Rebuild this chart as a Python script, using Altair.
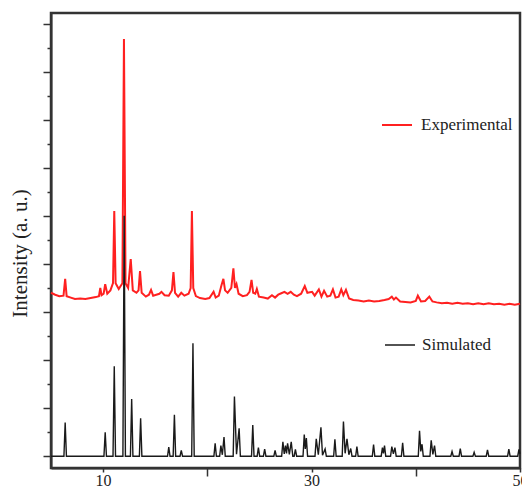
import altair as alt
import pandas as pd

# Simulated pattern: vertices (2-theta, intensity)
sim_x = [5.0, 6.24, 6.36, 6.48, 10.08, 10.2, 10.32, 10.95, 11.07, 11.19, 11.90, 12.02, 12.14,
         12.62, 12.74, 12.86, 13.48, 13.6, 13.72, 16.18, 16.3, 16.42, 16.72, 16.84, 16.96,
         17.38, 17.5, 17.62, 18.50, 18.62, 18.74, 20.63, 20.75, 20.87, 21.18, 21.3, 21.44,
         21.6, 21.72, 22.48, 22.6, 22.8, 23.05, 23.17, 24.24, 24.36, 24.48, 24.78, 24.9, 25.02,
         25.38, 25.5, 25.62, 26.38, 26.5, 26.62, 27.13, 27.25, 27.38, 27.5, 27.6, 27.7, 27.87,
         28.05, 28.2, 28.33, 28.45, 28.57, 29.18, 29.3, 29.4, 29.5, 29.62, 30.33, 30.45, 30.65,
         30.9, 31.05, 31.3, 31.42, 32.12, 32.24, 32.36, 32.94, 33.06, 33.22, 33.4, 33.58, 33.76,
         33.88, 34.23, 34.35, 34.47, 35.83, 35.95, 36.07, 36.68, 36.8, 36.9, 37.0, 37.12, 37.58,
         37.7, 37.85, 38.0, 38.12, 38.62, 38.74, 38.86, 40.24, 40.36, 40.48, 40.6, 40.72, 41.36,
         41.48, 41.64, 41.8, 41.92, 43.36, 43.48, 43.6, 44.15, 44.27, 44.39, 45.48, 45.6, 45.72,
         46.76, 46.88, 47.0, 48.81, 48.93, 49.05, 49.78, 49.9, 50.0]
sim_y = [0, 0, 0.70, 0, 0, 0.50, 0, 0, 1.87, 0, 0, 5.00, 0,
         0, 1.19, 0, 0, 0.79, 0, 0, 0.19, 0, 0, 0.86, 0,
         0, 0.12, 0, 0, 2.35, 0, 0, 0.27, 0, 0, 0.22, 0.03,
         0.40, 0, 0, 1.24, 0.04, 0.58, 0, 0, 0.65, 0, 0, 0.18, 0,
         0, 0.15, 0, 0, 0.12, 0, 0, 0.30, 0.05, 0.22, 0.06, 0.27, 0.04,
         0.30, 0, 0, 0.14, 0, 0, 0.45, 0.15, 0.38, 0, 0, 0.36, 0.03,
         0.60, 0.02, 0.15, 0, 0, 0.35, 0, 0, 0.72, 0.06, 0.36, 0.03, 0.16,
         0, 0, 0.20, 0, 0, 0.24, 0, 0, 0.18, 0.06, 0.22, 0, 0,
         0.20, 0.05, 0.18, 0, 0, 0.28, 0, 0, 0.53, 0.10, 0.25, 0, 0,
         0.33, 0.04, 0.22, 0, 0, 0.10, 0, 0, 0.16, 0, 0, 0.08, 0,
         0, 0.13, 0, 0, 0.15, 0, 0, 0.14, 0.05]

# Experimental pattern (offset upward): vertices
exp_x = [5.0, 5.4, 5.8, 6.2, 6.36, 6.5, 6.9, 7.3, 7.8, 8.3, 8.8, 9.3, 9.6, 9.73, 9.85, 10.05,
         10.2, 10.4, 10.7, 10.95, 11.07, 11.2, 11.5, 11.85, 12.0, 12.15, 12.4, 12.65, 12.85,
         13.2, 13.4, 13.54, 13.7, 14.1, 14.4, 14.6, 14.8, 15.1, 15.4, 15.6, 15.9, 16.3, 16.6,
         16.75, 16.9, 17.2, 17.5, 17.8, 18.2, 18.4, 18.52, 18.65, 18.9, 19.3, 19.8, 20.2, 20.6,
         20.8, 21.1, 21.35, 21.54, 21.7, 21.95, 22.3, 22.5, 22.65, 22.8, 23.0, 23.4, 23.8,
         24.05, 24.24, 24.4, 24.6, 24.75, 24.95, 25.4, 25.8, 26.2, 26.5, 26.8, 27.1, 27.4,
         27.7, 28.0, 28.3, 28.6, 29.0, 29.35, 29.6, 30.05, 30.3, 30.7, 30.95, 31.2, 31.5,
         31.8, 32.05, 32.3, 32.6, 32.85, 33.05, 33.3, 33.6, 34.0, 34.5, 35.0, 35.5, 36.0,
         36.5, 37.0, 37.4, 37.7, 37.9, 38.1, 38.5, 39.0, 39.5, 40.0, 40.2, 40.5, 40.9, 41.3,
         41.6, 42.0, 42.5, 43.0, 43.5, 44.0, 44.5, 45.0, 45.5, 46.0, 46.5, 47.0, 47.5, 48.0,
         48.5, 49.0, 49.5, 50.0]
exp_y = [3.40, 3.36, 3.33, 3.34, 3.69, 3.33, 3.30, 3.27, 3.28, 3.27, 3.29, 3.31, 3.33, 3.50,
         3.35, 3.38, 3.58, 3.38, 3.45, 3.60, 5.10, 3.60, 3.48, 3.60, 8.68, 3.60, 3.50, 4.10,
         3.45, 3.40, 3.45, 3.85, 3.40, 3.32, 3.36, 3.46, 3.34, 3.36, 3.38, 3.42, 3.35, 3.34,
         3.45, 3.83, 3.40, 3.32, 3.40, 3.34, 3.38, 3.50, 5.10, 3.50, 3.33, 3.29, 3.27, 3.29,
         3.42, 3.30, 3.34, 3.55, 3.69, 3.45, 3.40, 3.50, 3.91, 3.50, 3.58, 3.38, 3.33, 3.35,
         3.42, 3.67, 3.40, 3.38, 3.48, 3.32, 3.30, 3.28, 3.35, 3.30, 3.36, 3.39, 3.42, 3.38,
         3.42, 3.36, 3.33, 3.38, 3.54, 3.40, 3.42, 3.34, 3.47, 3.32, 3.44, 3.32, 3.34, 3.47,
         3.30, 3.32, 3.47, 3.35, 3.46, 3.28, 3.25, 3.24, 3.22, 3.24, 3.22, 3.23, 3.25, 3.27,
         3.32, 3.26, 3.30, 3.22, 3.21, 3.20, 3.23, 3.34, 3.22, 3.23, 3.32, 3.22, 3.20, 3.18,
         3.19, 3.17, 3.19, 3.17, 3.18, 3.16, 3.18, 3.16, 3.18, 3.16, 3.17, 3.15, 3.17, 3.15,
         3.17]

x_ticks = [10, 20, 30, 40, 50]
y_ticks = [0, 0.5, 1, 1.5, 2, 2.5, 3, 3.5, 4, 4.5, 5, 5.5, 6, 6.5, 7, 7.5, 8, 8.5, 9]

# plot range (axis limits)
x_range = [5, 50]
y_range = [-0.245, 9.22]

FONT = "Liberation Serif"
INK = "#222222"
FRAME = "#333333"
W, H = 469, 455

exp_df = pd.DataFrame({"two_theta": exp_x, "intensity": exp_y, "series": "Experimental"})
sim_df = pd.DataFrame({"two_theta": sim_x, "intensity": sim_y, "series": "Simulated"})
frame_df = pd.DataFrame({"x0": [x_range[0]], "x1": [x_range[1]],
                         "y0": [y_range[0]], "y1": [y_range[1]]})

xscale = alt.Scale(domain=x_range, nice=False, zero=False)
yscale = alt.Scale(domain=y_range, nice=False, zero=False)

x_axis = alt.Axis(orient="bottom", values=x_ticks, title=None, grid=False,
                  labelExpr="datum.value % 20 == 10 ? datum.label : ''",
                  tickSize=alt.ExprRef(expr="datum.value % 20 == 0 ? 8 : 4"),
                  labelPadding=0, labelFont=FONT, labelFontSize=16,
                  labelColor=INK, labelFlush=False, labelOverlap=False,
                  domainColor=FRAME, domainWidth=2,
                  tickColor=FRAME, tickWidth=1.5)
y_axis = alt.Axis(orient="left", values=y_ticks, labels=False, grid=False,
                  title="Intensity (a. u.)",
                  tickSize=alt.ExprRef(expr="datum.value % 1 == 0 ? 8 : 4"),
                  titleFont=FONT, titleFontSize=21, titleFontWeight="normal",
                  titleColor=INK, titleX=-31, titleY=240,
                  titleBaseline="middle", titleAlign="center",
                  domainColor=FRAME, domainWidth=2,
                  tickColor=FRAME, tickWidth=1.5)

x_enc = alt.X("two_theta:Q", scale=xscale, axis=x_axis)
y_enc = alt.Y("intensity:Q", scale=yscale, axis=y_axis)

# plot frame outline, drawn through the same scales at the axis limits
frame = alt.Chart(frame_df).mark_rect(filled=False, stroke=FRAME, strokeWidth=2.5).encode(
    x=alt.X("x0:Q", scale=xscale, axis=x_axis),
    x2="x1:Q",
    y=alt.Y("y0:Q", scale=yscale, axis=y_axis),
    y2="y1:Q",
)

exp_line = alt.Chart(exp_df).mark_line(strokeWidth=2, interpolate="linear").encode(
    x=x_enc, y=y_enc,
    color=alt.Color("series:N",
                    scale=alt.Scale(domain=["Experimental"], range=["#ff2020"]),
                    legend=alt.Legend(orient="none", legendX=330, legendY=96, title=None,
                                      symbolType="stroke", symbolSize=900,
                                      symbolStrokeWidth=2, labelOffset=8, padding=0,
                                      labelFont=FONT, labelFontSize=17, labelColor=INK)),
)

sim_line = alt.Chart(sim_df).mark_line(strokeWidth=1.4, interpolate="linear").encode(
    x=x_enc, y=y_enc,
    stroke=alt.Stroke("series:N",
                      scale=alt.Scale(domain=["Simulated"], range=["#1a1a1a"]),
                      legend=alt.Legend(orient="none", legendX=333, legendY=316, title=None,
                                        symbolType="stroke", symbolSize=900,
                                        symbolStrokeWidth=1.5, labelOffset=6, padding=0,
                                        labelFont=FONT, labelFontSize=17, labelColor=INK)),
)

chart = alt.layer(frame, exp_line, sim_line).resolve_scale(
    color="independent"
).properties(
    width=W, height=H,
    autosize=alt.AutoSizeParams(type="none"),
    padding={"left": 43, "top": 5, "right": 2, "bottom": 20},
    background="white",
).configure_view(stroke=FRAME, strokeWidth=2)

chart.save("out.html", embed_options={"renderer": "svg", "actions": False})
